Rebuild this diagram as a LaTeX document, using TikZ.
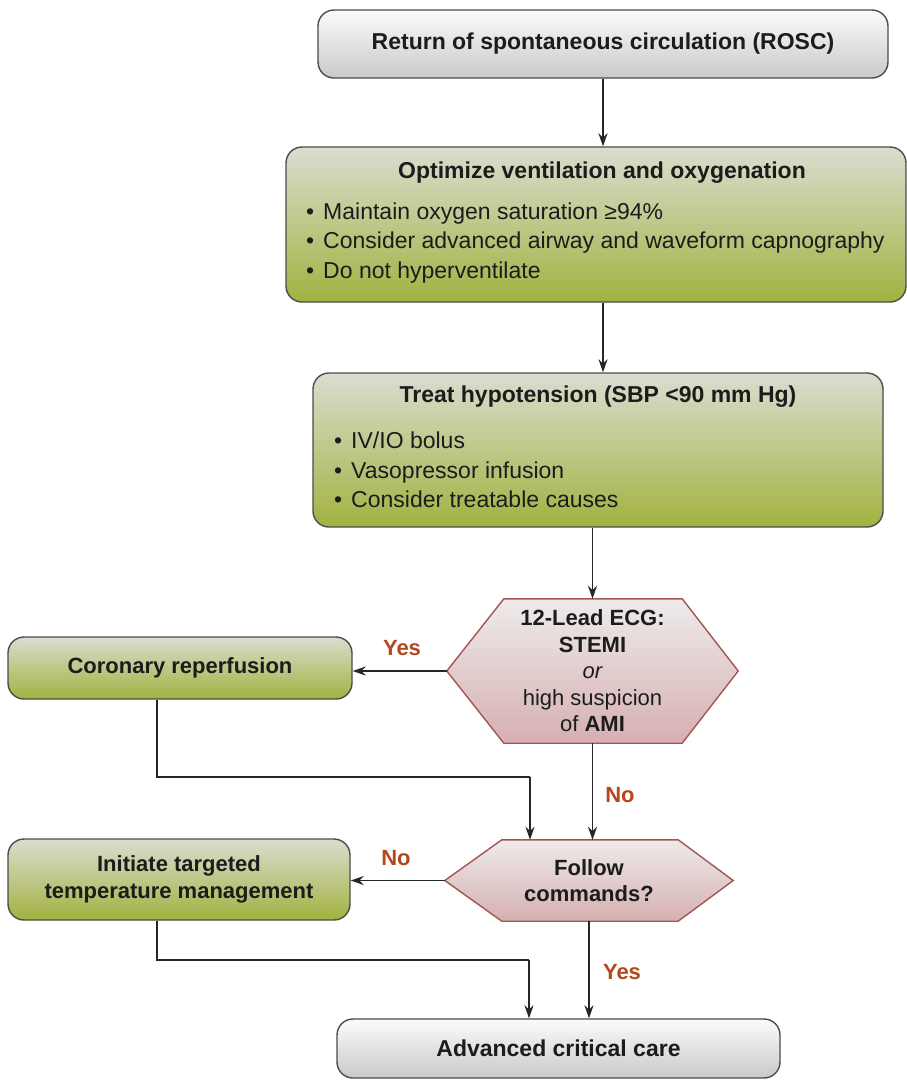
\documentclass[tikz,border=0pt]{standalone}
\usepackage{fontspec}
\setmainfont{Liberation Sans}
\usetikzlibrary{arrows.meta,backgrounds,calc}

\definecolor{boxedge}{HTML}{4C4C4C}
\definecolor{greytop}{HTML}{FBFBFB}
\definecolor{greybot}{HTML}{C9C9C9}
\definecolor{greentop}{HTML}{DCDCD0}
\definecolor{greenbot}{HTML}{A2B240}
\definecolor{hexedge}{HTML}{A5554F}
\definecolor{hextop}{HTML}{EEEBEB}
\definecolor{hexmid}{HTML}{E6D9DA}
\definecolor{hexbot}{HTML}{D6AFB1}
\definecolor{answer}{HTML}{B3481D}
\definecolor{ink}{HTML}{1C1C1C}

\newcommand{\bigtext}{\fontsize{23}{29.5}\selectfont}
\newcommand{\midtext}{\fontsize{22}{26.5}\selectfont}

\tikzset{
  greybox/.style={draw=boxedge, line width=1.4pt, rounded corners=16pt,
    top color=greytop, bottom color=greybot, inner sep=0pt,
    text=ink, font=\bigtext\bfseries, align=center},
  greenbox/.style={draw=boxedge, line width=1.4pt, rounded corners=16pt,
    top color=greentop, bottom color=greenbot,
    middle color=greentop!50!greenbot, inner sep=0pt,
    text=ink, font=\midtext\bfseries, align=center},
  heading/.style={text=ink, font=\bigtext\bfseries, inner sep=0pt},
  bullets/.style={text=ink, font=\bigtext, align=left, inner sep=0pt, anchor=west},
  hexlabel/.style={text=ink, font=\midtext, align=center, inner sep=0pt},
  hexshape/.style={draw=hexedge, line width=1.4pt, top color=hextop,
    middle color=hexmid, bottom color=hexbot},
  flow/.style={draw=black!85, line width=1.5pt, -{Stealth[length=13pt,width=9pt]}},
  plainline/.style={draw=black!85, line width=1.5pt},
  answerlabel/.style={text=answer, font=\midtext\bfseries, inner sep=0pt}
}

\begin{document}
\begin{tikzpicture}[x=1pt,y=-1pt]
\useasboundingbox (0,0) rectangle (907,1080);

% main column boxes
\node[greybox, minimum width=570pt, minimum height=68pt] (rosc) at (603,44)
  {Return of spontaneous circulation (ROSC)};

\node[greenbox, minimum width=620pt, minimum height=155pt] (opt) at (596,224.5) {};
\node[heading] (optT) at (602,173) {Optimize ventilation and oxygenation};
\node[bullets] (optL) at (306,243)
  {\textbullet\hspace{9pt}Maintain oxygen saturation ≥94\%\\
   \textbullet\hspace{9pt}Consider advanced airway and waveform capnography\\
   \textbullet\hspace{9pt}Do not hyperventilate};

\node[greenbox, minimum width=570pt, minimum height=154pt] (treat) at (598,450) {};
\node[heading] (treatT) at (598,397) {Treat hypotension (SBP <90 mm Hg)};
\node[bullets] (treatL) at (334,470)
  {\textbullet\hspace{9pt}IV/IO bolus\\
   \textbullet\hspace{9pt}Vasopressor infusion\\
   \textbullet\hspace{9pt}Consider treatable causes};

% decision 1
\node[hexlabel, minimum width=291pt, minimum height=144pt] (hex1) at (592.5,671)
  {\bfseries 12-Lead ECG:\\ \bfseries STEMI\\ \itshape or\\ high suspicion\\ of \textbf{AMI}};
\begin{scope}[on background layer]
  \path[hexshape] (hex1.west) -- ([xshift=57pt]hex1.north west) -- ([xshift=-56pt]hex1.north east)
    -- (hex1.east) -- ([xshift=-56pt]hex1.south east) -- ([xshift=57pt]hex1.south west) -- cycle;
\end{scope}

\node[greenbox, minimum width=344pt, minimum height=62pt] (cor) at (180,668)
  {Coronary reperfusion};

% decision 2
\node[hexlabel, font=\midtext\bfseries, minimum width=288pt, minimum height=81pt] (hex2) at (589,880.5)
  {Follow\\ commands?};
\begin{scope}[on background layer]
  \path[hexshape] (hex2.west) -- ([xshift=57pt]hex2.north west) -- ([xshift=-55pt]hex2.north east)
    -- (hex2.east) -- ([xshift=-55pt]hex2.south east) -- ([xshift=57pt]hex2.south west) -- cycle;
\end{scope}

\node[greenbox, minimum width=342pt, minimum height=81pt] (ttm) at (179,879.5)
  {Initiate targeted\\ temperature management};

\node[greybox, minimum width=443pt, minimum height=59pt] (adv) at (558.5,1048.5)
  {Advanced critical care};

% connectors
\draw[flow] (rosc.south) -- (rosc.south |- opt.north);
\draw[flow] (opt.south -| rosc.south) -- (treat.north -| rosc.south);
\draw[flow] (treat.south -| hex1.north) -- (hex1.north);
\draw[flow] (hex1.west) -- (hex1.west -| cor.east);
\draw[flow] (hex1.south) -- (hex1.south |- hex2.north);

\coordinate (joinA) at (530,777);
\draw[plainline] ([xshift=-23pt]cor.south) |- (joinA);
\draw[flow] (joinA) -- (joinA |- hex2.north);

\draw[flow] (hex2.west) -- (hex2.west -| ttm.east);
\draw[flow] (hex2.south) -- (hex2.south |- adv.north);

\coordinate (joinB) at (529,960);
\draw[plainline] ([xshift=-22pt]ttm.south) |- (joinB);
\draw[flow] (joinB) -- (joinB |- adv.north);

% branch labels
\node[answerlabel] (yes1) at (402,648) {Yes};
\node[answerlabel] (no1) at (620,795) {No};
\node[answerlabel] (no2) at (396,858) {No};
\node[answerlabel] (yes2) at (622,972) {Yes};
\end{tikzpicture}
\end{document}
